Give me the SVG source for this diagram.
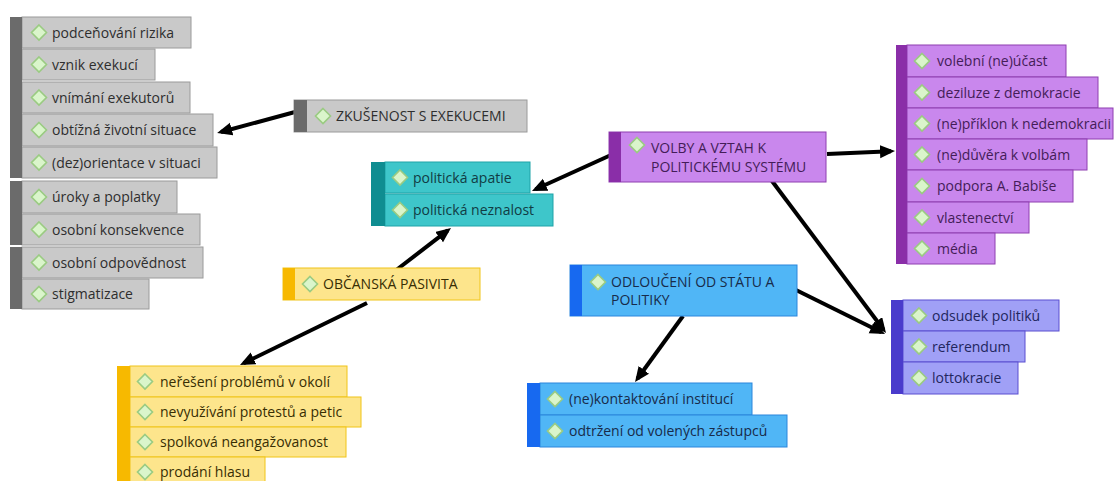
<svg xmlns="http://www.w3.org/2000/svg" xmlns:xlink="http://www.w3.org/1999/xlink" width="1116" height="481" viewBox="0 0 1116 481">
<style>
text{font-family:"Open Sans","Noto Sans","Liberation Sans",sans-serif;font-size:14px}
.g rect.r{fill:#c9c9c9;stroke:#9a9a9a;stroke-width:1}
.g .b{fill:#6b6b6b}
.g text{fill:#2e2e2e}
.t rect.r{fill:#3ec6ca;stroke:#1ea3a8;stroke-width:1}
.t .b{fill:#0f8d91}
.t text{fill:#113c44}
.p rect.r{fill:#c987ed;stroke:#8e3fb0;stroke-width:1}
.p .b{fill:#8a2ea8}
.p text{fill:#441d58}
.y rect.r{fill:#fde58c;stroke:#f0c418;stroke-width:1}
.y .b{fill:#f7b900}
.y text{fill:#382e04}
.bl rect.r{fill:#50b6f6;stroke:#2a86dc;stroke-width:1}
.bl .b{fill:#1769f0}
.bl text{fill:#182b4a}
.i rect.r{fill:#a0a0f6;stroke:#5a4fd0;stroke-width:1}
.i .b{fill:#4a3bcc}
.i text{fill:#22265e}
.dia{fill:#daf5cb;stroke:#9acb82;stroke-width:1.6}
#connectors line{stroke:#000;stroke-width:4;marker-end:url(#ah)}
</style>
<defs>
<path id="d" class="dia" d="M0,-7.5 L7.5,0 L0,7.5 L-7.5,0Z"/>
<marker id="ah" markerUnits="userSpaceOnUse" markerWidth="17" markerHeight="15" refX="11" refY="6.5" orient="auto"><path d="M0,0 L15,6.5 L0,13Z" fill="#000"/></marker>
</defs>
<rect width="1116" height="481" fill="#fff"/>

<g id="connectors">
<line x1="295" y1="112" x2="221" y2="132"/>
<line x1="611" y1="155" x2="535.6" y2="189.3"/>
<line x1="395" y1="271" x2="447.8" y2="230.4"/>
<line x1="367" y1="303" x2="243.6" y2="363.2"/>
<line x1="827" y1="154" x2="891" y2="151.2"/>
<line x1="772" y1="181" x2="883.6" y2="329.8"/>
<line x1="796" y1="290" x2="881.4" y2="332.2"/>
<line x1="683" y1="316" x2="637.4" y2="378.8"/>
</g>

<g id="exekuce-list" class="g">
<rect class="r" x="22" y="17" width="169" height="31"/><use xlink:href="#d" x="39" y="32.5"/><text x="52" y="37.5">podceňování rizika</text>
<rect class="r" x="22" y="49" width="133" height="31"/><use xlink:href="#d" x="39" y="64.5"/><text x="52" y="69.5">vznik exekucí</text>
<rect class="r" x="22" y="82" width="168" height="31"/><use xlink:href="#d" x="39" y="97.5"/><text x="52" y="102.5">vnímání exekutorů</text>
<rect class="r" x="22" y="114" width="191" height="32"/><use xlink:href="#d" x="39" y="130"/><text x="52" y="135">obtížná životní situace</text>
<rect class="r" x="22" y="147" width="195" height="31"/><use xlink:href="#d" x="39" y="162.5"/><text x="52" y="167.5">(dez)orientace v situaci</text>
<rect class="r" x="22" y="181" width="155" height="32"/><use xlink:href="#d" x="39" y="197"/><text x="52" y="202">úroky a poplatky</text>
<rect class="r" x="22" y="214" width="178" height="31"/><use xlink:href="#d" x="39" y="229.5"/><text x="52" y="234.5">osobní konsekvence</text>
<rect class="r" x="22" y="247" width="181" height="31"/><use xlink:href="#d" x="39" y="262.5"/><text x="52" y="267.5">osobní odpovědnost</text>
<rect class="r" x="22" y="279" width="127" height="30"/><use xlink:href="#d" x="39" y="294"/><text x="52" y="299">stigmatizace</text>
<rect class="b" x="10" y="17" width="12" height="161"/>
<rect class="b" x="10" y="181" width="12" height="64"/>
<rect class="b" x="10" y="247" width="12" height="62"/>
</g>

<g id="zkusenost" class="g">
<rect class="r" x="294" y="100" width="233" height="32"/>
<rect class="b" x="294" y="100" width="13" height="32"/>
<use xlink:href="#d" x="323" y="116"/><text x="336" y="121">ZKUŠENOST S EXEKUCEMI</text>
</g>

<g id="politicka" class="t">
<rect class="r" x="385" y="162" width="145" height="31"/><use xlink:href="#d" x="400" y="177.5"/><text x="413" y="182.5">politická apatie</text>
<rect class="r" x="385" y="194" width="168" height="32"/><use xlink:href="#d" x="400" y="210"/><text x="413" y="215">politická neznalost</text>
<rect class="b" x="371" y="162" width="14" height="64"/>
</g>

<g id="volby" class="p">
<rect class="r" x="609" y="132" width="217" height="50"/>
<rect class="b" x="609" y="132" width="12" height="50"/>
<use xlink:href="#d" x="637" y="145"/>
<text x="651" y="153">VOLBY A VZTAH K</text>
<text x="651" y="172">POLITICKÉMU SYSTÉMU</text>
</g>

<g id="volby-list" class="p">
<rect class="r" x="907" y="45" width="159" height="32"/><use xlink:href="#d" x="922" y="61"/><text x="937" y="66">volební (ne)účast</text>
<rect class="r" x="907" y="77" width="191" height="31"/><use xlink:href="#d" x="922" y="92.5"/><text x="937" y="97.5">deziluze z demokracie</text>
<rect class="r" x="907" y="108" width="206" height="31"/><use xlink:href="#d" x="922" y="123.5"/><text x="937" y="128.5">(ne)příklon k nedemokracii</text>
<rect class="r" x="907" y="139" width="180" height="31"/><use xlink:href="#d" x="922" y="154.5"/><text x="937" y="159.5">(ne)důvěra k volbám</text>
<rect class="r" x="907" y="170" width="166" height="32"/><use xlink:href="#d" x="922" y="186"/><text x="937" y="191">podpora A. Babiše</text>
<rect class="r" x="907" y="202" width="122" height="31"/><use xlink:href="#d" x="922" y="217.5"/><text x="937" y="222.5">vlastenectví</text>
<rect class="r" x="907" y="233" width="88" height="31"/><use xlink:href="#d" x="922" y="248.5"/><text x="937" y="253.5">média</text>
<rect class="b" x="896" y="45" width="11" height="219"/>
</g>

<g id="obcanska" class="y">
<rect class="r" x="283" y="268" width="197" height="32"/>
<rect class="b" x="283" y="268" width="12" height="32"/>
<use xlink:href="#d" x="310" y="284"/><text x="323" y="289">OBČANSKÁ PASIVITA</text>
</g>

<g id="obcanska-list" class="y">
<rect class="r" x="130" y="366" width="217" height="31"/><use xlink:href="#d" x="145" y="381.5"/><text x="160" y="386.5">neřešení problémů v okolí</text>
<rect class="r" x="130" y="397" width="231" height="30"/><use xlink:href="#d" x="145" y="412"/><text x="160" y="417">nevyužívání protestů a petic</text>
<rect class="r" x="130" y="427" width="216" height="30"/><use xlink:href="#d" x="145" y="442"/><text x="160" y="447">spolková neangažovanost</text>
<rect class="r" x="130" y="457" width="135" height="30"/><use xlink:href="#d" x="145" y="472"/><text x="160" y="477">prodání hlasu</text>
<rect class="b" x="117" y="366" width="13" height="121"/>
</g>

<g id="odlouceni" class="bl">
<rect class="r" x="570" y="265" width="227" height="51"/>
<rect class="b" x="570" y="265" width="12" height="51"/>
<use xlink:href="#d" x="598" y="282"/>
<text x="611" y="287">ODLOUČENÍ OD STÁTU A</text>
<text x="611" y="305">POLITIKY</text>
</g>

<g id="odlouceni-list" class="bl">
<rect class="r" x="540" y="383" width="212" height="32"/><use xlink:href="#d" x="555" y="399"/><text x="569" y="404">(ne)kontaktování institucí</text>
<rect class="r" x="540" y="415" width="247" height="32"/><use xlink:href="#d" x="555" y="431"/><text x="569" y="436">odtržení od volených zástupců</text>
<rect class="b" x="527" y="383" width="13" height="64"/>
</g>

<g id="odsudek-list" class="i">
<rect class="r" x="903" y="300" width="156" height="31"/><use xlink:href="#d" x="919" y="315.5"/><text x="932" y="320.5">odsudek politiků</text>
<rect class="r" x="903" y="331" width="122" height="31"/><use xlink:href="#d" x="919" y="346.5"/><text x="932" y="351.5">referendum</text>
<rect class="r" x="903" y="362" width="115" height="32"/><use xlink:href="#d" x="919" y="378"/><text x="932" y="383">lottokracie</text>
<rect class="b" x="891" y="300" width="12" height="94"/>
</g>
</svg>
